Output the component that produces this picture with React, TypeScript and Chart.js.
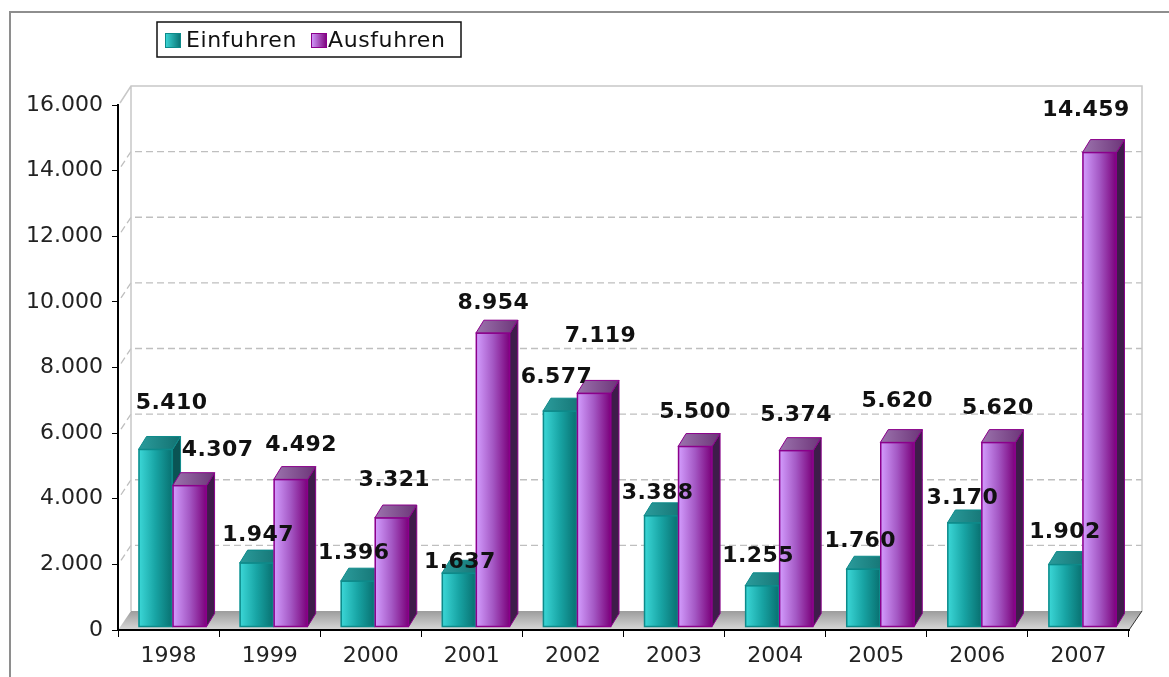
import React, { useEffect, useRef } from 'react';
import { Chart, registerables } from 'chart.js';

Chart.register(...registerables);

// ---------- data ----------
const categories = ['1998', '1999', '2000', '2001', '2002', '2003', '2004', '2005', '2006', '2007'];
const seriesLabels = ['Einfuhren', 'Ausfuhren'];
const einfuhren = [5410, 1947, 1396, 1637, 6577, 3388, 1255, 1760, 3170, 1902];
const ausfuhren = [4307, 4492, 3321, 8954, 7119, 5500, 5374, 5620, 5620, 14459];
const yMin = 0;
const yMax = 16000;
const yStep = 2000;

// small per-label nudges (px) reproducing the original's label collision placement
const einfuhrenLabelNudge = [[12, -21], [-2.5, -3], [-8, -3], [-3, 14], [-7.5, -9], [-7.5, 2.5], [-8, -4.5], [-7, -2.5], [-6, 0], [-4.5, -7.5]];
const ausfuhrenLabelNudge = [[24, -10], [6.5, -9], [-1.5, -12.5], [-3.5, -5], [2.5, -32.5], [-4, -9], [-4, -10], [-4, -16], [-4.5, -9], [-17.5, -17.5]];

// ---------- style ----------
const FONT = '"DejaVu Sans", Verdana, sans-serif';
const WALL_DX = 13;
const WALL_DY = 19;
const BAR_DX = 8;
const BAR_DY = 13;
const BAR_SHIFT_X = 4;
const BAR_SHIFT_Y = -3;

const barStyles = [
  { front: ['#3cd8d8', '#18a4a4', '#087070'], border: '#0d8a8a', top: ['#2b9c9c', '#127070'], side: '#0a5454' },
  { front: ['#d49eff', '#a458c4', '#7a007a'], border: '#8b008b', top: ['#9c74ae', '#6c3478'], side: '#3e1c4a' },
];

const fmt = (v: number) => String(v).replace(/\B(?=(\d{3})+(?!\d))/g, '.');

function drawBar3d(ctx: CanvasRenderingContext2D, left: number, right: number, top: number, bottom: number, st: any) {
  const dx = BAR_DX, dy = BAR_DY;
  // side face
  ctx.beginPath();
  ctx.moveTo(right, top);
  ctx.lineTo(right + dx, top - dy);
  ctx.lineTo(right + dx, bottom - dy);
  ctx.lineTo(right, bottom);
  ctx.closePath();
  ctx.fillStyle = st.side;
  ctx.fill();
  ctx.strokeStyle = st.border;
  ctx.lineWidth = 1;
  ctx.stroke();
  // top face
  const tg = ctx.createLinearGradient(left, 0, right + dx, 0);
  tg.addColorStop(0, st.top[0]);
  tg.addColorStop(1, st.top[1]);
  ctx.beginPath();
  ctx.moveTo(left, top);
  ctx.lineTo(left + dx, top - dy);
  ctx.lineTo(right + dx, top - dy);
  ctx.lineTo(right, top);
  ctx.closePath();
  ctx.fillStyle = tg;
  ctx.fill();
  ctx.stroke();
  // front face
  const fg = ctx.createLinearGradient(left, 0, right, 0);
  fg.addColorStop(0, st.front[0]);
  fg.addColorStop(0.5, st.front[1]);
  fg.addColorStop(1, st.front[2]);
  ctx.fillStyle = fg;
  ctx.fillRect(left, top, right - left, bottom - top);
  ctx.lineWidth = 1.5;
  ctx.strokeRect(left + 0.5, top, right - left - 1, bottom - top);
}

const fake3d = {
  id: 'fake3d',
  beforeDraw(chart: any) {
    const { ctx, chartArea: a, scales } = chart;
    const ys = scales.y;
    ctx.save();
    ctx.fillStyle = '#ffffff';
    ctx.fillRect(0, 0, chart.width, chart.height);
    // outer frame
    ctx.strokeStyle = '#8e8e8e';
    ctx.lineWidth = 2;
    ctx.strokeRect(10, 12, chart.width + 40, chart.height + 40);

    const bl = a.left + WALL_DX;
    const br = a.right + WALL_DX;
    const bt = a.top - WALL_DY;
    const bb = a.bottom - WALL_DY;

    // floor
    const fg = ctx.createLinearGradient(0, bb, 0, a.bottom);
    fg.addColorStop(0, '#9c9c9c');
    fg.addColorStop(1, '#d8d8d8');
    ctx.beginPath();
    ctx.moveTo(a.left, a.bottom);
    ctx.lineTo(bl, bb);
    ctx.lineTo(br, bb);
    ctx.lineTo(a.right, a.bottom);
    ctx.closePath();
    ctx.fillStyle = fg;
    ctx.fill();

    // dashed gridlines on back wall + left wall
    ctx.strokeStyle = '#bfbfbf';
    ctx.lineWidth = 1.3;
    ctx.setLineDash([7, 4]);
    ys.ticks.forEach((t: any) => {
      if (t.value <= yMin || t.value >= yMax) return;
      const py = ys.getPixelForValue(t.value);
      ctx.beginPath();
      ctx.moveTo(bl + 4, py - WALL_DY);
      ctx.lineTo(br, py - WALL_DY);
      ctx.stroke();
      ctx.beginPath();
      ctx.moveTo(a.left + 3, py - 4);
      ctx.lineTo(bl, py - WALL_DY);
      ctx.stroke();
    });
    ctx.setLineDash([]);

    // wall outline
    ctx.strokeStyle = '#c8c8c8';
    ctx.lineWidth = 1.5;
    ctx.beginPath();
    ctx.moveTo(a.left + 2, a.top - 2);
    ctx.lineTo(bl, bt);
    ctx.lineTo(br, bt);
    ctx.lineTo(br, bb);
    ctx.moveTo(bl, bt);
    ctx.lineTo(bl, bb);
    ctx.stroke();

    // floor right edge
    ctx.strokeStyle = '#333';
    ctx.lineWidth = 1;
    ctx.beginPath();
    ctx.moveTo(a.right, a.bottom);
    ctx.lineTo(br, bb);
    ctx.stroke();
    ctx.restore();
  },
  afterDatasetsDraw(chart: any) {
    const { ctx } = chart;
    ctx.save();
    const metas = [chart.getDatasetMeta(0), chart.getDatasetMeta(1)];
    for (let i = 0; i < categories.length; i++) {
      metas.forEach((m, d) => {
        const el = m.data[i];
        const left = el.x - el.width / 2 + BAR_SHIFT_X;
        const right = el.x + el.width / 2 + BAR_SHIFT_X;
        drawBar3d(ctx, left, right, el.y + BAR_SHIFT_Y, el.base + BAR_SHIFT_Y, barStyles[d]);
      });
    }
    // value labels
    ctx.font = `bold 22px ${FONT}`;
    try { (ctx as any).letterSpacing = '0.4px'; } catch (e) { /* ignore */ }
    ctx.fillStyle = '#111';
    ctx.textAlign = 'center';
    ctx.textBaseline = 'middle';
    const nudges = [einfuhrenLabelNudge, ausfuhrenLabelNudge];
    metas.forEach((m, d) => {
      const vals = chart.data.datasets[d].data as number[];
      m.data.forEach((el: any, i: number) => {
        const [nx, ny] = nudges[d][i];
        const x = el.x + BAR_SHIFT_X + BAR_DX / 2 + nx;
        const y = el.y + BAR_SHIFT_Y - 25 + ny;
        ctx.fillText(fmt(vals[i]), x, y);
      });
    });
    ctx.restore();
  },
  afterDraw(chart: any) {
    const { ctx } = chart;
    ctx.save();
    // legend
    ctx.strokeStyle = '#111';
    ctx.lineWidth = 1.5;
    ctx.strokeRect(157, 22, 304, 35);
    ctx.font = `22px ${FONT}`;
    try { (ctx as any).letterSpacing = '0.6px'; } catch (e) { /* ignore */ }
    ctx.textAlign = 'left';
    ctx.textBaseline = 'middle';
    const items = [{ x: 165, tx: 186 }, { x: 311, tx: 328 }];
    items.forEach((it, d) => {
      const st = barStyles[d];
      const g = ctx.createLinearGradient(it.x, 0, it.x + 16, 0);
      g.addColorStop(0, st.front[0]);
      g.addColorStop(1, st.front[2]);
      ctx.fillStyle = g;
      ctx.fillRect(it.x, 33, 16, 15);
      ctx.strokeStyle = st.border;
      ctx.lineWidth = 1;
      ctx.strokeRect(it.x + 0.5, 33.5, 15, 14);
      ctx.fillStyle = '#111';
      ctx.fillText(chart.data.datasets[d].label, it.tx, 41);
    });
    ctx.restore();
  },
};

export default function App() {
  const ref = useRef<HTMLCanvasElement>(null);
  useEffect(() => {
    if (!ref.current) return;
    const chart = new Chart(ref.current, {
      type: 'bar',
      data: {
        labels: categories,
        datasets: [
          { label: seriesLabels[0], data: einfuhren, backgroundColor: 'rgba(0,0,0,0)', borderWidth: 0 },
          { label: seriesLabels[1], data: ausfuhren, backgroundColor: 'rgba(0,0,0,0)', borderWidth: 0 },
        ],
      },
      options: {
        responsive: false,
        animation: false,
        devicePixelRatio: 1,
        events: [],
        layout: { padding: { left: 0, top: 105, right: 40, bottom: 0 } },
        datasets: { bar: { categoryPercentage: 0.673, barPercentage: 1 } },
        plugins: { legend: { display: false }, tooltip: { enabled: false }, title: { display: false } },
        scales: {
          x: {
            offset: true,
            grid: { display: true, drawOnChartArea: false, drawTicks: true, tickLength: 7, color: '#000', offset: true },
            border: { display: true, color: '#000', width: 2 },
            ticks: { font: { family: FONT, size: 22 }, color: '#222', padding: 6, maxRotation: 0 },
            afterFit: (s: any) => { s.height = 47; },
          },
          y: {
            min: yMin,
            max: yMax,
            grid: { display: true, drawOnChartArea: false, drawTicks: true, tickLength: 6, color: '#000' },
            border: { display: true, color: '#000', width: 2 },
            ticks: { stepSize: yStep, font: { family: FONT, size: 22 }, color: '#222', padding: 9, callback: (v: any) => fmt(Number(v)) },
            afterFit: (s: any) => { s.width = 118; },
          },
        },
      },
      plugins: [fake3d],
    });
    return () => chart.destroy();
  }, []);
  return (
    <div style={{ position: 'absolute', left: 0, top: 0, width: 1169, height: 677 }}>
      <canvas ref={ref} width={1169} height={677} style={{ display: 'block' }} />
    </div>
  );
}
